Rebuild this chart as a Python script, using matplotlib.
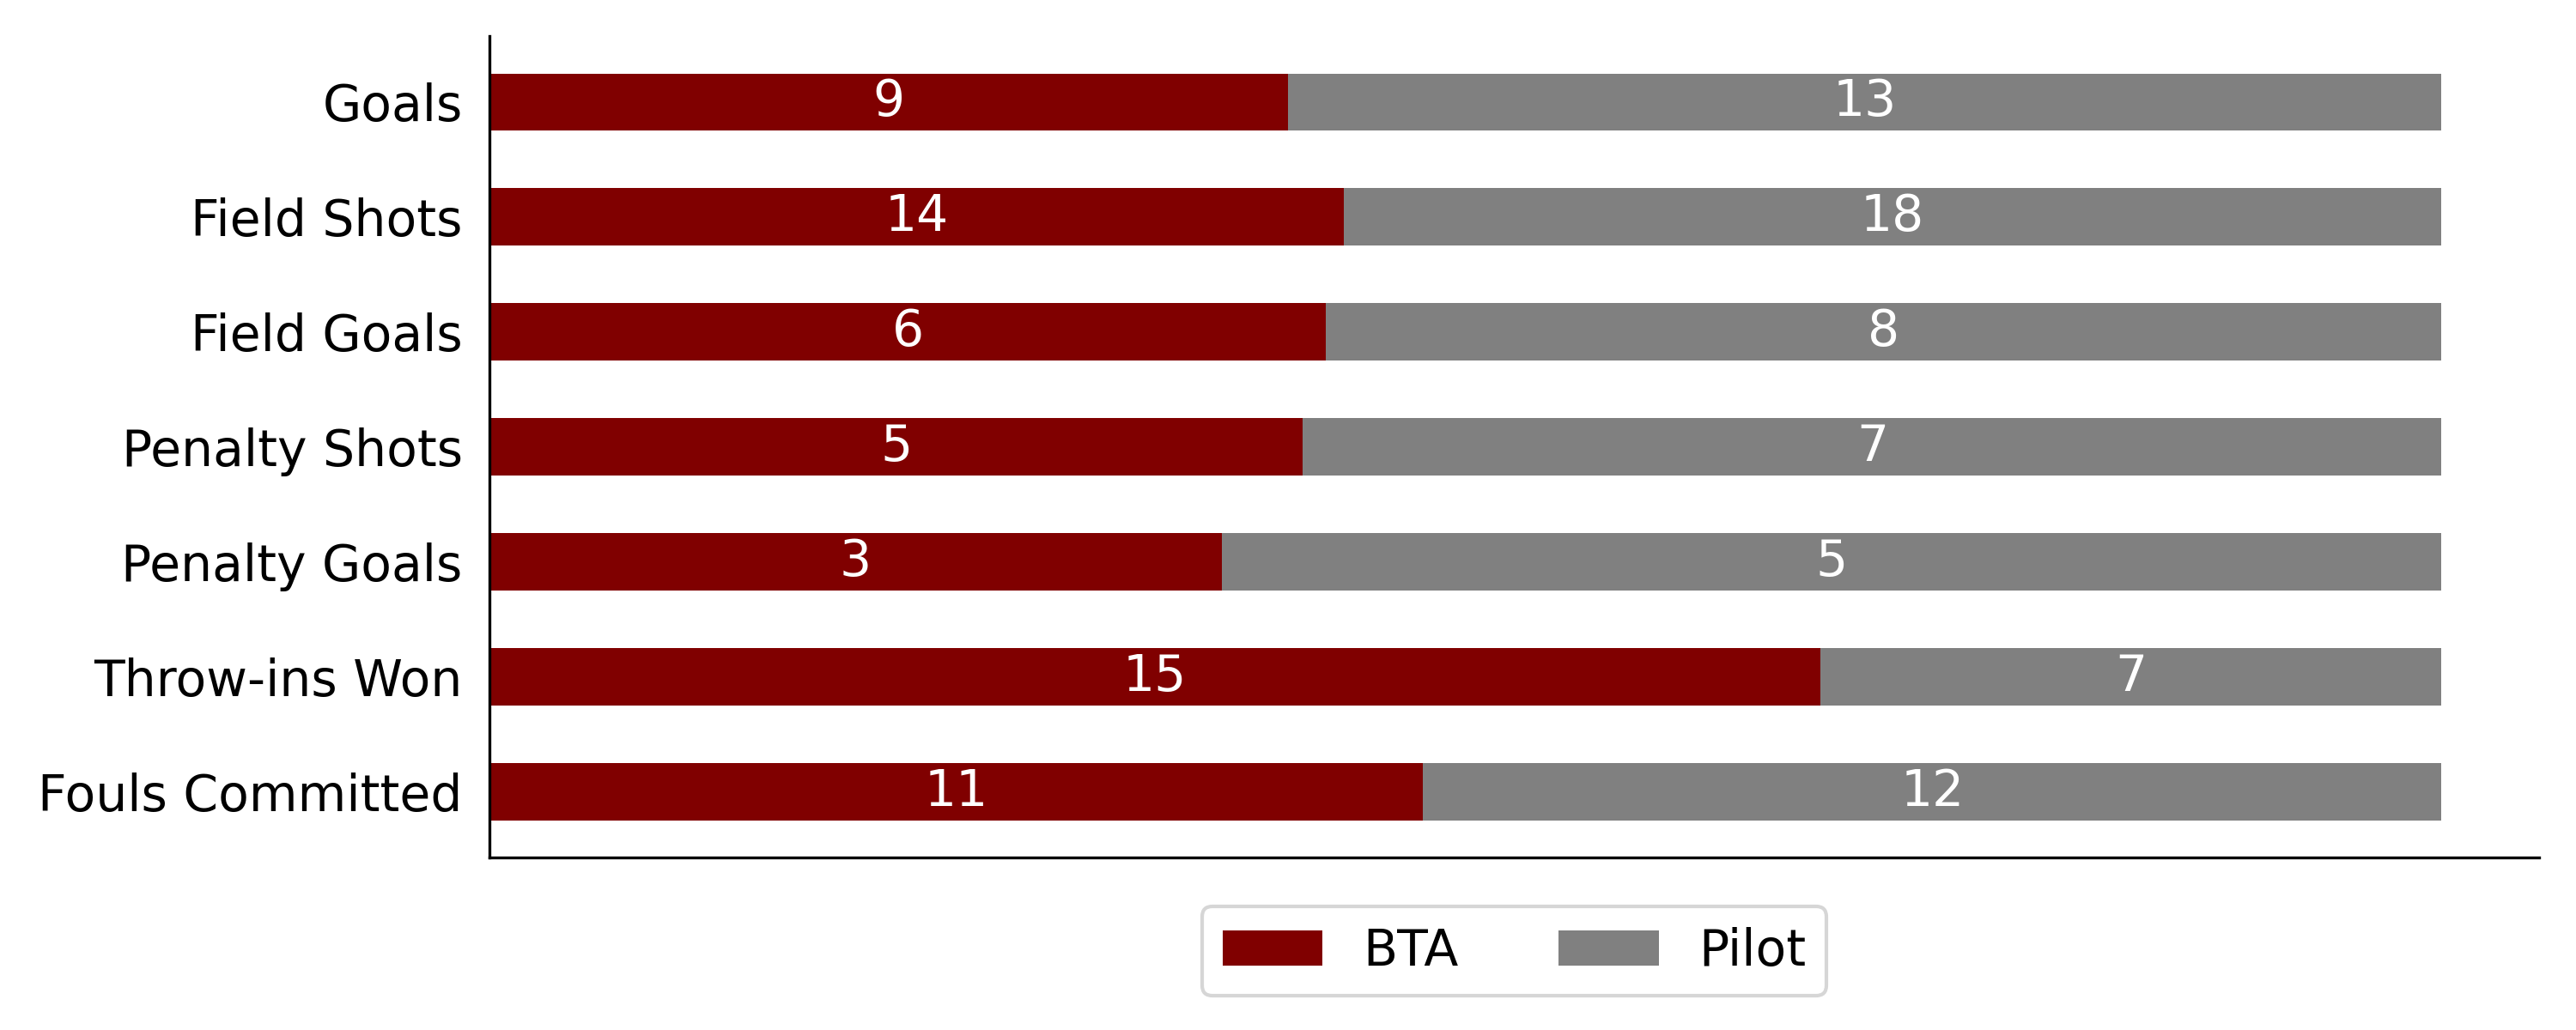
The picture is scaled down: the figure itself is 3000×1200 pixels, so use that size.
import matplotlib
matplotlib.use("Agg")
import matplotlib.pyplot as plt
import numpy as np

categories = ["Goals", "Field Shots", "Field Goals", "Penalty Shots",
              "Penalty Goals", "Throw-ins Won", "Fouls Committed"]
bta = [9, 14, 6, 5, 3, 15, 11]
pilot = [13, 18, 8, 7, 5, 7, 12]

bta_a = np.array(bta, dtype=float)
pilot_a = np.array(pilot, dtype=float)
total = bta_a + pilot_a
bta_f = bta_a / total
pilot_f = pilot_a / total

fig = plt.figure(figsize=(10, 4), dpi=300)
ax = fig.add_axes([0.19, 0.1675, 0.7957, 0.7975])

y = np.arange(len(categories))
b1 = ax.barh(y, bta_f, height=0.5, color="#800000", label="BTA")
b2 = ax.barh(y, pilot_f, left=bta_f, height=0.5, color="#808080", label="Pilot")

for i in range(len(categories)):
    ax.text(bta_f[i] / 2, y[i], str(bta[i]), ha="center", va="center",
            color="white", fontsize=14)
    ax.text(bta_f[i] + pilot_f[i] / 2, y[i], str(pilot[i]), ha="center",
            va="center", color="white", fontsize=14)

ax.set_yticks(y)
ax.set_yticklabels(categories, fontsize=14)
ax.invert_yaxis()
ax.set_xlim(0, 1.05)
ax.set_xticks([])
ax.tick_params(axis="y", length=0, pad=7.5)
ax.spines["top"].set_visible(False)
ax.spines["right"].set_visible(False)

ax.legend(loc="upper center", bbox_to_anchor=(0.5, -0.06), ncol=2,
          fontsize=14, borderaxespad=0, frameon=True)

fig.savefig("out.png", dpi=300)
